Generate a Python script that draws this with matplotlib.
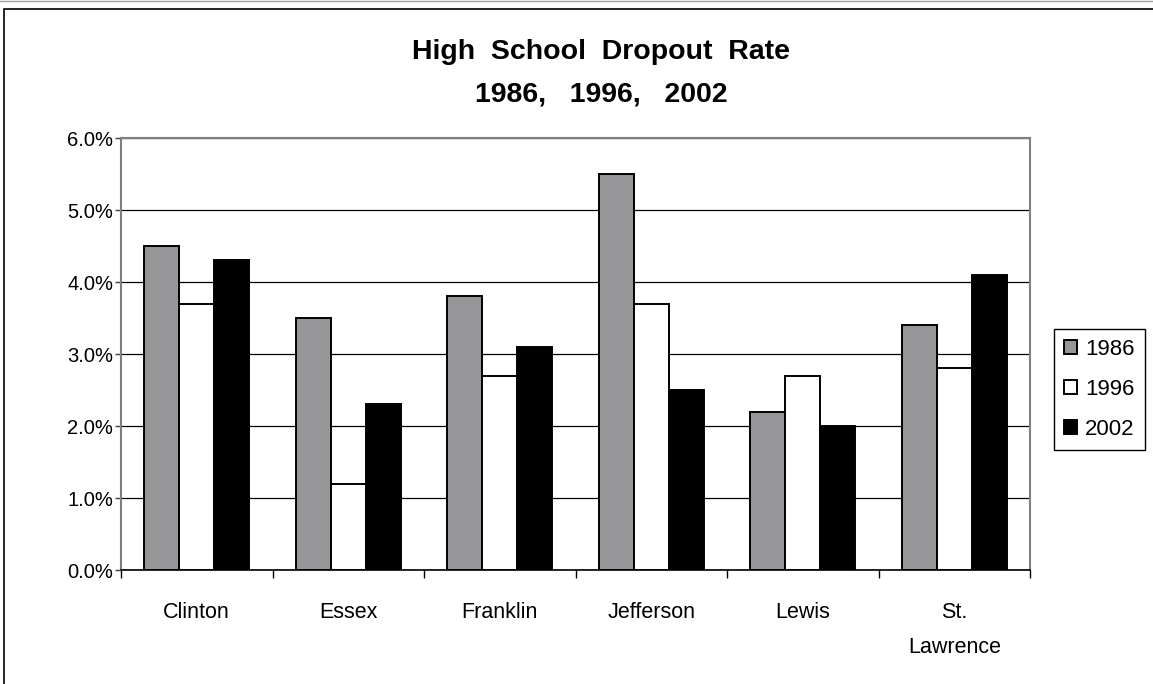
import numpy as np
import matplotlib
matplotlib.use("Agg")
import matplotlib.pyplot as plt
from matplotlib.patches import Patch, Rectangle
from matplotlib.lines import Line2D
from matplotlib.ticker import FuncFormatter

plt.rcParams['font.family'] = ['Liberation Sans', 'DejaVu Sans']

counties = ['Clinton', 'Essex', 'Franklin', 'Jefferson', 'Lewis', 'St.\nLawrence']
years = ['1986', '1996', '2002']
rate_1986 = [4.5, 3.5, 3.8, 5.5, 2.2, 3.4]
rate_1996 = [3.7, 1.2, 2.7, 3.7, 2.7, 2.8]
rate_2002 = [4.3, 2.3, 3.1, 2.5, 2.0, 4.1]

colors = ['#969699', '#ffffff', '#000000']

W, H = 1153, 684
fig = plt.figure(figsize=(W / 100, H / 100), dpi=100)
fig.patch.set_facecolor('white')

# plot area in pixels: x 121..1030, y 138..570
ax = fig.add_axes([121 / W, 1 - 570 / H, (1030 - 121) / W, (570 - 138) / H])

x = np.arange(len(counties))
bw = 0.231
for i, vals in enumerate([rate_1986, rate_1996, rate_2002]):
    ax.bar(x + (i - 1) * bw, np.array(vals) / 100, bw, color=colors[i],
           edgecolor='black', linewidth=1.4, zorder=3)

ax.set_xlim(-0.5, len(counties) - 0.5)
ax.set_ylim(0, 0.06)
ax.set_yticks(np.arange(0, 0.061, 0.01))
ax.yaxis.set_major_formatter(FuncFormatter(lambda v, p: f'{v * 100:.1f}%'))
ax.yaxis.grid(True, color='black', linewidth=0.9)
ax.set_axisbelow(True)

ax.set_xticks(x)
ax.set_xticklabels(counties, linespacing=1.85)
ax.set_xticks(np.arange(-0.5, len(counties)), minor=True)
ax.tick_params(axis='x', which='major', length=0, pad=23, labelsize=15.5)
ax.tick_params(axis='x', which='minor', length=6, width=1, color='black', direction='out')
ax.tick_params(axis='y', length=4, width=1, color='#404040', pad=1.5, labelsize=14.5)

for s in ['left', 'top', 'right']:
    ax.spines[s].set_color('#808080')
    ax.spines[s].set_linewidth(1.5)
ax.spines['bottom'].set_color('black')
ax.spines['bottom'].set_linewidth(1.2)

fig.text(601 / W, 1 - 52 / H, 'High  School  Dropout  Rate', ha='center', va='center',
         fontsize=20.5, fontweight='bold')
fig.text(601 / W, 1 - 95 / H, '1986,   1996,   2002', ha='center', va='center',
         fontsize=20.5, fontweight='bold')

handles = [Patch(facecolor=c, edgecolor='black', linewidth=1.4) for c in colors]
leg = fig.legend(handles, years, loc='upper left', bbox_to_anchor=(1054 / W, 1 - 329 / H),
                 fontsize=16, handlelength=0.6, handleheight=0.6, handletextpad=0.35,
                 labelspacing=0.85, borderpad=0.45, borderaxespad=0, fancybox=False,
                 framealpha=1, edgecolor='black')
leg.get_frame().set_linewidth(1)

# outer chart frame
fig.add_artist(Rectangle((4 / W, -0.1), 2, 1 - 9 / H + 0.1, transform=fig.transFigure,
                         fill=False, edgecolor='black', linewidth=1.2))
fig.add_artist(Line2D([0, 1], [1 - 0.5 / H, 1 - 0.5 / H], transform=fig.transFigure,
                      color='#a0a0a0', linewidth=1))

fig.savefig('out.png', dpi=100)
